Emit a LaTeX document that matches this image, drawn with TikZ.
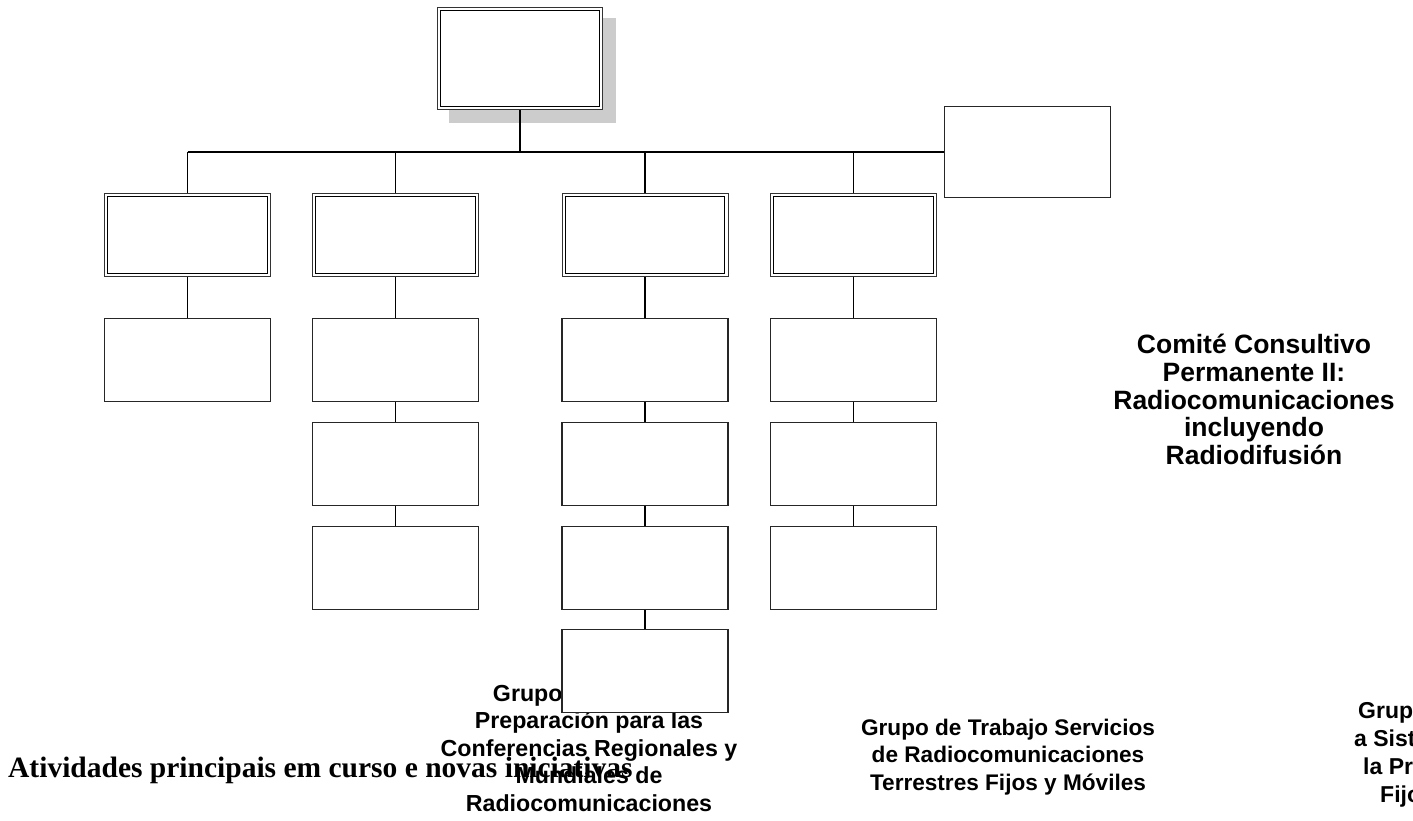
\documentclass[tikz,border=0pt]{standalone}
\usepackage{fontspec}
\setmainfont{Liberation Sans}
\newfontfamily\timesfont{Liberation Serif}
\begin{document}
\begin{tikzpicture}[x=1pt,y=-1pt,
  conn/.style={draw=black,line width=1.1pt},
  dbox/.style={draw=black!80,fill=white,line width=1pt,
    minimum width=166pt,minimum height=83pt,inner sep=0pt,outer sep=0.5pt},
  innerline/.style={draw=black,line width=0.9pt},
  sbox/.style={draw=black!85,fill=white,line width=1.1pt,
    minimum width=166pt,minimum height=83pt,inner sep=0pt,outer sep=0.55pt},
  sanslbl/.style={align=center,inner sep=0pt,text=black},
]
\useasboundingbox (0,0) rectangle (1413,821);
\clip (0,0) rectangle (1413,821);

% free-standing labels (drawn first so boxes cover hidden parts)
\node[sanslbl,anchor=north,font={\fontsize{26.5}{27.7}\selectfont\bfseries}] (cc) at (1254,334)
  {Comité Consultivo\\Permanente II:\\Radiocomunicaciones\\incluyendo\\Radiodifusión};
\node[sanslbl,anchor=north,font={\fontsize{23.2}{27.5}\selectfont\bfseries}] (gprep) at (589,684)
  {Grupo de Trabajo\\Preparación para las\\Conferencias Regionales y\\Mundiales de\\Radiocomunicaciones};
\node[sanslbl,anchor=north,font={\fontsize{22.6}{27.5}\selectfont\bfseries}] (gterr) at (1008,718.5)
  {Grupo de Trabajo Servicios\\de Radiocomunicaciones\\Terrestres Fijos y Móviles};
\node[align=left,inner sep=0pt,anchor=north west,font={\fontsize{23}{28}\selectfont\bfseries}] (gsat) at (1354,702)
  {\hspace*{4pt}Grupo de Trabajo\\a Sistemas\\\hspace*{9pt}la Prestación\\\hspace*{26pt}Fijos};
\node[inner sep=0pt,anchor=base west,font={\fontsize{29.5}{32}\selectfont\timesfont\bfseries}] (act) at (8,777)
  {Atividades principais em curso e novas iniciativas};

% top box with shadow
\fill[black!20] (449,18) rectangle (616,123);
\node[dbox,minimum width=165pt,minimum height=102pt] (top) at (520,58.5) {};

% right box
\node[sbox,minimum height=91pt] (rb) at (1027.5,152) {};

% level 2
\node[dbox] (a1) at (187.5,235) {};
\node[dbox] (b1) at (395.5,235) {};
\node[dbox] (c1) at (645,235) {};
\node[dbox] (d1) at (853.5,235) {};
\foreach \n in {top,a1,b1,c1,d1}
  \draw[innerline] ([shift={(3.6,3.6)}]\n.north west) rectangle ([shift={(-3.6,-3.6)}]\n.south east);

% children
\node[sbox] (a2) at (187.5,360) {};
\node[sbox] (b2) at (395.5,360) {};
\node[sbox] (b3) at (395.5,464) {};
\node[sbox] (b4) at (395.5,568) {};
\node[sbox] (c2) at (645,360) {};
\node[sbox] (c3) at (645,464) {};
\node[sbox] (c4) at (645,568) {};
\node[sbox] (c5) at (645,671) {};
\node[sbox] (d2) at (853.5,360) {};
\node[sbox] (d3) at (853.5,464) {};
\node[sbox] (d4) at (853.5,568) {};

% bus
\coordinate (j) at (520,152);
\coordinate (ja) at (187.5,152);
\coordinate (jb) at (395.5,152);
\coordinate (jc) at (645,152);
\coordinate (jd) at (853.5,152);
\draw[conn] (top.south) -- (j);
\draw[conn] (ja) -- (rb.west);
\draw[conn] (ja) -- (a1.north);
\draw[conn] (jb) -- (b1.north);
\draw[conn] (jc) -- (c1.north);
\draw[conn] (jd) -- (d1.north);

\draw[conn] (a1.south) -- (a2.north);
\draw[conn] (b1.south) -- (b2.north);
\draw[conn] (b2.south) -- (b3.north);
\draw[conn] (b3.south) -- (b4.north);
\draw[conn] (c1.south) -- (c2.north);
\draw[conn] (c2.south) -- (c3.north);
\draw[conn] (c3.south) -- (c4.north);
\draw[conn] (c4.south) -- (c5.north);
\draw[conn] (d1.south) -- (d2.north);
\draw[conn] (d2.south) -- (d3.north);
\draw[conn] (d3.south) -- (d4.north);
\end{tikzpicture}
\end{document}
